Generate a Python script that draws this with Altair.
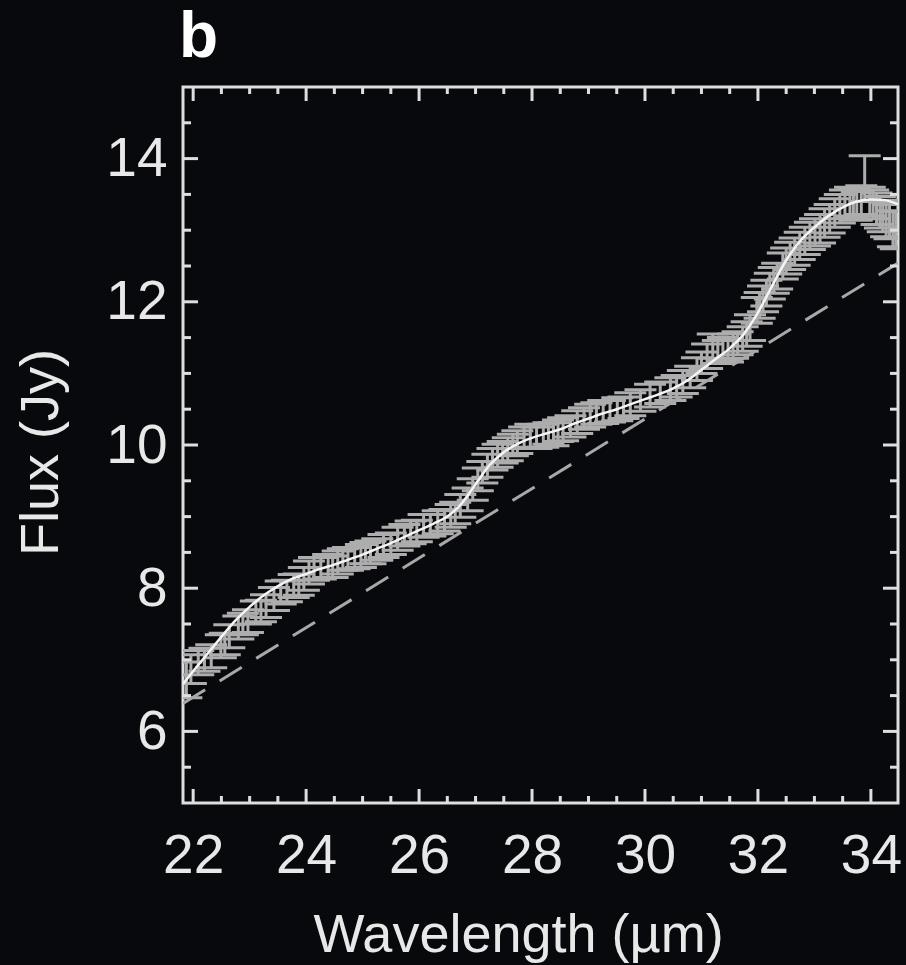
import altair as alt
import pandas as pd

# ---- data ----
wavelength = [21.88, 21.96, 22.09, 22.20, 22.32, 22.49, 22.56, 22.64, 22.80, 22.88,
              22.97, 23.11, 23.20, 23.29, 23.43, 23.55, 23.66, 23.78, 23.87, 23.96,
              24.05, 24.14, 24.26, 24.39, 24.47, 24.56, 24.65, 24.74, 24.86, 24.97,
              25.05, 25.14, 25.26, 25.37, 25.50, 25.62, 25.74, 25.85, 25.96, 26.08,
              26.20, 26.33, 26.45, 26.56, 26.64, 26.73, 26.86, 26.95, 27.04, 27.12,
              27.21, 27.30, 27.39, 27.48, 27.57, 27.66, 27.74, 27.86, 27.97, 28.08,
              28.20, 28.29, 28.38, 28.46, 28.55, 28.68, 28.80, 28.92, 29.03, 29.14,
              29.26, 29.38, 29.51, 29.62, 29.74, 29.92, 30.09, 30.27, 30.45, 30.56,
              30.67, 30.80, 30.92, 31.00, 31.10, 31.20, 31.29, 31.38, 31.47, 31.56,
              31.64, 31.73, 31.80, 31.86, 31.98, 32.03, 32.09, 32.15, 32.21, 32.28,
              32.34, 32.44, 32.50, 32.57, 32.65, 32.74, 32.83, 32.92, 33.01, 33.10,
              33.18, 33.27, 33.36, 33.45, 33.54, 33.63, 33.69, 33.75, 33.83, 33.89,
              33.98, 34.04, 34.10, 34.16, 34.21, 34.27, 34.33, 34.39, 34.44]
flux = [6.72, 6.87, 6.96, 7.00, 7.05, 7.19, 7.22, 7.33, 7.45, 7.50,
        7.54, 7.66, 7.68, 7.75, 7.85, 7.94, 7.96, 8.03, 8.05, 8.13,
        8.22, 8.27, 8.28, 8.31, 8.30, 8.36, 8.40, 8.41, 8.42, 8.45,
        8.49, 8.50, 8.54, 8.59, 8.62, 8.69, 8.74, 8.78, 8.80, 8.87,
        8.88, 8.92, 8.95, 9.01, 9.05, 9.15, 9.24, 9.38, 9.52, 9.62,
        9.71, 9.80, 9.85, 9.90, 9.94, 10.00, 10.04, 10.10, 10.13, 10.10,
        10.13, 10.16, 10.15, 10.20, 10.22, 10.26, 10.32, 10.37, 10.41, 10.44,
        10.46, 10.47, 10.50, 10.52, 10.57, 10.62, 10.69, 10.73, 10.78, 10.82,
        10.88, 10.95, 11.06, 11.15, 11.24, 11.38, 11.30, 11.34, 11.32, 11.38,
        11.42, 11.48, 11.55, 11.64, 11.88, 11.95, 12.04, 12.12, 12.22, 12.30,
        12.36, 12.50, 12.57, 12.64, 12.70, 12.78, 12.85, 12.92, 12.97, 13.02,
        13.10, 13.16, 13.24, 13.30, 13.36, 13.40, 13.38, 13.34, 13.42, 13.72,
        13.40, 13.36, 13.30, 13.25, 13.20, 13.15, 13.12, 13.02, 13.00]
flux_err = [0.25, 0.20, 0.17, 0.16, 0.16, 0.16, 0.15, 0.16, 0.16, 0.15,
            0.16, 0.16, 0.15, 0.16, 0.16, 0.16, 0.15, 0.16, 0.15, 0.16,
            0.16, 0.16, 0.15, 0.16, 0.15, 0.16, 0.15, 0.16, 0.15, 0.16,
            0.15, 0.16, 0.15, 0.16, 0.15, 0.16, 0.15, 0.16, 0.15, 0.16,
            0.15, 0.16, 0.15, 0.16, 0.15, 0.16, 0.16, 0.15, 0.16, 0.15,
            0.16, 0.15, 0.16, 0.15, 0.16, 0.15, 0.16, 0.15, 0.16, 0.15,
            0.16, 0.15, 0.16, 0.15, 0.16, 0.15, 0.16, 0.15, 0.16, 0.15,
            0.16, 0.15, 0.16, 0.15, 0.16, 0.15, 0.16, 0.15, 0.16, 0.15,
            0.16, 0.15, 0.16, 0.15, 0.17, 0.17, 0.16, 0.16, 0.16, 0.17,
            0.16, 0.17, 0.17, 0.18, 0.18, 0.18, 0.18, 0.18, 0.18, 0.18,
            0.18, 0.18, 0.18, 0.19, 0.19, 0.19, 0.19, 0.19, 0.19, 0.20,
            0.20, 0.20, 0.20, 0.20, 0.20, 0.20, 0.20, 0.20, 0.20, 0.32,
            0.20, 0.20, 0.22, 0.22, 0.22, 0.24, 0.24, 0.25, 0.26]

model_wl = [21.82, 22.00, 22.25, 22.50, 22.75, 23.00, 23.25, 23.50, 23.75, 24.00,
            24.25, 24.50, 24.75, 25.00, 25.25, 25.50, 25.75, 26.00, 26.25, 26.50,
            26.75, 27.00, 27.25, 27.50, 27.75, 28.00, 28.25, 28.50, 28.75, 29.00,
            29.25, 29.50, 29.75, 30.00, 30.25, 30.50, 30.75, 31.00, 31.25, 31.50,
            31.75, 32.00, 32.25, 32.50, 32.75, 33.00, 33.25, 33.50, 33.75, 34.00,
            34.25, 34.48]
model_flux = [6.66, 6.84, 7.08, 7.32, 7.55, 7.74, 7.90, 8.03, 8.13, 8.20,
              8.27, 8.33, 8.40, 8.47, 8.55, 8.63, 8.72, 8.81, 8.90, 9.00,
              9.18, 9.45, 9.72, 9.90, 10.02, 10.10, 10.16, 10.22, 10.30, 10.37,
              10.44, 10.50, 10.57, 10.64, 10.71, 10.79, 10.90, 11.05, 11.20, 11.35,
              11.55, 11.85, 12.22, 12.58, 12.85, 13.04, 13.20, 13.32, 13.40, 13.43,
              13.42, 13.36]

continuum_wl = [21.82, 34.48]
continuum_flux = [6.39, 12.54]

x_major = [22, 24, 26, 28, 30, 32, 34]
x_minor = [22.5, 23, 23.5, 24.5, 25, 25.5, 26.5, 27, 27.5, 28.5, 29, 29.5,
           30.5, 31, 31.5, 32.5, 33, 33.5]
y_major = [6, 8, 10, 12, 14]
y_minor = [5.5, 6.5, 7, 7.5, 8.5, 9, 9.5, 10.5, 11, 11.5, 12.5, 13, 13.5, 14.5]

# ---- styling ----
W, H = 715, 716
BG = "#08090c"
FRAME = "#dedede"
DATA = "#adadad"
TXT = "#e8e8e8"
FONT = "Liberation Sans"

xscale = alt.Scale(domain=[21.82, 34.48], nice=False, zero=False)
yscale = alt.Scale(domain=[5.0, 15.0], nice=False, zero=False)

xaxis = alt.Axis(values=x_major, ticks=False, domain=False, grid=False,
                 labelFontSize=55, labelFont=FONT, labelColor=TXT, labelPadding=26,
                 title="Wavelength (\u00b5m)", titleFontSize=54, titleFont=FONT,
                 titleFontWeight="normal", titleColor=TXT, titleX=335, titleY=148,
                 titleBaseline="alphabetic", titleAlign="center")
yaxis = alt.Axis(values=y_major, ticks=False, domain=False, grid=False,
                 labelFontSize=55, labelFont=FONT, labelColor=TXT, labelPadding=16,
                 title="Flux (Jy)", titleFontSize=54, titleFont=FONT,
                 titleFontWeight="normal", titleColor=TXT, titleX=-126, titleY=365,
                 titleBaseline="alphabetic", titleAlign="center")


def X(field="x"):
    return alt.X(f"{field}:Q", scale=xscale, axis=xaxis)


def Y(field="y"):
    return alt.Y(f"{field}:Q", scale=yscale, axis=yaxis)


pts = pd.DataFrame({"x": wavelength, "y": flux, "e": flux_err})
pts["lo"] = pts["y"] - pts["e"]
pts["hi"] = pts["y"] + pts["e"]
caps = pd.concat([pts[["x", "lo"]].rename(columns={"lo": "y"}),
                  pts[["x", "hi"]].rename(columns={"hi": "y"})])

model = pd.DataFrame({"x": model_wl, "y": model_flux})
cont = pd.DataFrame({"x": continuum_wl, "y": continuum_flux})

err_rules = alt.Chart(pts).mark_rule(color=DATA, strokeWidth=3, clip=True).encode(
    x=X(), y=Y("lo"), y2="hi:Q")
err_caps = alt.Chart(caps).mark_tick(color=DATA, orient="horizontal", size=32,
                                     thickness=3, opacity=1, clip=True).encode(x=X(), y=Y())
model_line = alt.Chart(model).mark_line(color="#f4f4f4", strokeWidth=2.5,
                                        interpolate="monotone", clip=True).encode(x=X(), y=Y())
cont_line = alt.Chart(cont).mark_line(color="#a8a8a8", strokeWidth=3,
                                      strokeDash=[26, 17], clip=True).encode(x=X(), y=Y())

tick_layers = []
for vals, L in [(x_major, 14), (x_minor, 7)]:
    df = pd.DataFrame({"x": vals})
    tick_layers.append(alt.Chart(df).mark_rule(color=FRAME, strokeWidth=3).encode(
        x=X(), y=alt.value(H), y2=alt.value(H - L)))
    tick_layers.append(alt.Chart(df).mark_rule(color=FRAME, strokeWidth=3).encode(
        x=X(), y=alt.value(0), y2=alt.value(L)))
for vals, L in [(y_major, 15), (y_minor, 8)]:
    df = pd.DataFrame({"y": vals})
    tick_layers.append(alt.Chart(df).mark_rule(color=FRAME, strokeWidth=3).encode(
        y=Y(), x=alt.value(0), x2=alt.value(L)))
    tick_layers.append(alt.Chart(df).mark_rule(color=FRAME, strokeWidth=3).encode(
        y=Y(), x=alt.value(W), x2=alt.value(W - L)))

chart = alt.layer(err_rules, err_caps, cont_line, model_line, *tick_layers).properties(
    width=W, height=H,
    background=BG,
    padding={"left": 183, "top": 87, "right": 8, "bottom": 162},
    autosize=alt.AutoSizeParams(type="none"),
    title=alt.TitleParams(text="b", anchor="start", frame="group", fontSize=64,
                          fontWeight="bold", font=FONT, color="#ffffff",
                          offset=16, dx=-4),
).configure_view(stroke=FRAME, strokeWidth=3)

chart.save("out.html", embed_options={"renderer": "svg", "actions": False})
